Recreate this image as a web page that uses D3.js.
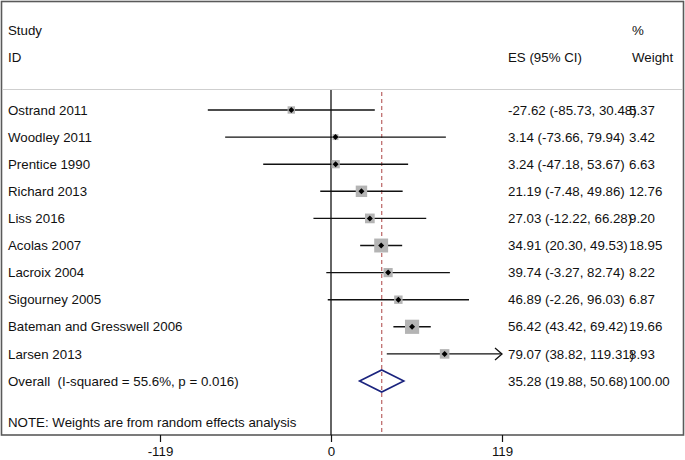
<!DOCTYPE html>
<html><head><meta charset="utf-8">
<script src="https://cdn.jsdelivr.net/npm/d3@7"></script>
<style>body{margin:0;background:#fff}svg{display:block}text{font-family:"Liberation Sans",Arial,sans-serif;fill:#111}</style>
</head><body><svg id="c" width="685" height="460"></svg>
<script>
const studies = ["Ostrand 2011","Woodley 2011","Prentice 1990","Richard 2013","Liss 2016","Acolas 2007","Lacroix 2004","Sigourney 2005","Bateman and Gresswell 2006","Larsen 2013"];
const es    = [-27.62, 3.14, 3.24, 21.19, 27.03, 34.91, 39.74, 46.89, 56.42, 79.07];
const lower = [-85.73, -73.66, -47.18, -7.48, -12.22, 20.30, -3.27, -2.26, 43.42, 38.82];
const upper = [30.48, 79.94, 53.67, 49.86, 66.28, 49.53, 82.74, 96.03, 69.42, 119.31];
const weights = [5.37, 3.42, 6.63, 12.76, 9.20, 18.95, 8.22, 6.87, 19.66, 8.93];
const overall = {label:"Overall  (I-squared = 55.6%, p = 0.016)", es:35.28, lo:19.88, hi:50.68, w:100.00};
const tickValues = [-119, 0, 119];
const note = "NOTE: Weights are from random effects analysis";

const loc = d3.formatLocale({decimal:".", thousands:",", grouping:[3], currency:["",""], minus:"-"});
const fmt = loc.format(".2f");
const svg = d3.select("#c");
const x = d3.scaleLinear().domain([-119, 119]).range([160, 502]);
const y = d3.scaleLinear().domain([0, 10]).range([110, 381]);
const size = d3.scaleSqrt().domain([0, 20]).range([0, 14.3]);
const fs = 13.3;
const frameBottom = 435;

svg.append("rect").attr("x",1.5).attr("y",1.5).attr("width",682).attr("height",frameBottom-1.5)
  .attr("fill","none").attr("stroke","#5a5a5a").attr("stroke-width",1.6);
svg.append("line").attr("x1",2).attr("x2",683).attr("y1",89.5).attr("y2",89.5).attr("stroke","#cfcfcf").attr("stroke-width",1.2);

const hdr = (t,xx,yy)=>svg.append("text").attr("x",xx).attr("y",yy).attr("dy","0.35em").attr("font-size",fs).text(t);
hdr("Study",8,30); hdr("ID",8,57); hdr("ES (95% CI)",508,57); hdr("%",632,30); hdr("Weight",632,57);

svg.append("line").attr("x1",x(0)).attr("x2",x(0)).attr("y1",90).attr("y2",frameBottom).attr("stroke","#111").attr("stroke-width",1.3);
svg.append("line").attr("x1",x(overall.es)).attr("x2",x(overall.es)).attr("y1",92).attr("y2",frameBottom)
  .attr("stroke","#c07070").attr("stroke-width",1.3).attr("stroke-dasharray","4,3");

const axis = d3.axisBottom(x).tickValues(tickValues).tickSize(7).tickPadding(5).tickFormat(loc.format("d"));
const ag = svg.append("g").attr("transform",`translate(0,${frameBottom})`).call(axis);
ag.select(".domain").remove();
ag.selectAll("line").attr("stroke","#111").attr("stroke-width",1.2);
ag.selectAll("text").attr("font-size",fs).attr("fill","#111").attr("font-family","Liberation Sans, Arial, sans-serif");

const xmax = x.domain()[1];
studies.forEach((s,i)=>{
  const yy = y(i);
  svg.append("text").attr("x",8).attr("y",yy).attr("dy","0.35em").attr("font-size",fs).text(s);
  const hi = Math.min(upper[i], xmax);
  svg.append("line").attr("x1",x(lower[i])).attr("x2",x(hi)).attr("y1",yy).attr("y2",yy).attr("stroke","#111").attr("stroke-width",1.4);
  if (upper[i] > xmax) {
    svg.append("path").attr("d",`M${x(hi)-7},${yy-6}L${x(hi)},${yy}L${x(hi)-7},${yy+6}`).attr("fill","none").attr("stroke","#111").attr("stroke-width",1.3);
  }
  const sz = size(weights[i]);
  svg.append("rect").attr("x",x(es[i])-sz/2).attr("y",yy-sz/2).attr("width",sz).attr("height",sz).attr("fill","#b4b4b4");
  svg.append("path").attr("d",`M${x(es[i])},${yy-3}L${x(es[i])+3},${yy}L${x(es[i])},${yy+3}L${x(es[i])-3},${yy}Z`).attr("fill","#000");
  svg.append("text").attr("x",508).attr("y",yy).attr("dy","0.35em").attr("font-size",fs)
    .text(`${fmt(es[i])} (${fmt(lower[i])}, ${fmt(upper[i])})`);
  svg.append("text").attr("x",629).attr("y",yy).attr("dy","0.35em").attr("font-size",fs).text(fmt(weights[i]));
});

const oy = y(10);
svg.append("text").attr("x",8).attr("y",oy).attr("dy","0.35em").attr("font-size",fs).style("white-space","pre").text(overall.label);
svg.append("path").attr("d",`M${x(overall.lo)},${oy}L${x(overall.es)},${oy-11}L${x(overall.hi)},${oy}L${x(overall.es)},${oy+11}Z`)
  .attr("fill","none").attr("stroke","#1a237e").attr("stroke-width",1.6);
svg.append("text").attr("x",508).attr("y",oy).attr("dy","0.35em").attr("font-size",fs).text(`${fmt(overall.es)} (${fmt(overall.lo)}, ${fmt(overall.hi)})`);
svg.append("text").attr("x",629).attr("y",oy).attr("dy","0.35em").attr("font-size",fs).text(fmt(overall.w));

svg.append("text").attr("x",8).attr("y",422).attr("dy","0.35em").attr("font-size",fs).text(note);
</script></body></html>
